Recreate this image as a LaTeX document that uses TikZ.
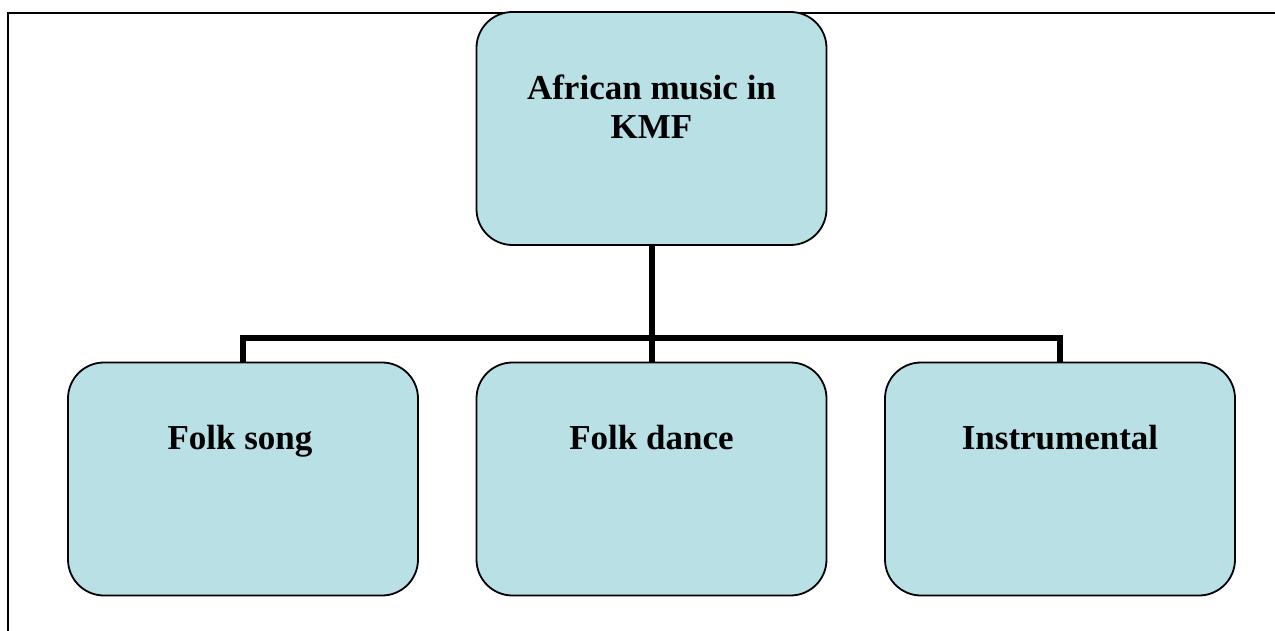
\documentclass[tikz,border=0pt]{standalone}
\usepackage{fontspec}
\setmainfont{Liberation Serif}
\definecolor{boxfill}{RGB}{185,224,228}
\begin{document}
\begin{tikzpicture}[x=1pt,y=-1pt,
  box/.style={draw=black,fill=boxfill,line width=1.8pt,rounded corners=36pt,
    rectangle,inner sep=0pt,minimum width=350pt,minimum height=233pt},
  lbl/.style={font=\fontsize{35}{40}\selectfont\bfseries,anchor=base,inner sep=0pt,align=center},
  conn/.style={line width=6pt,line join=miter}]
\useasboundingbox (0,0) rectangle (1275,631);
\fill[white] (0,0) rectangle (1275,631);
\draw[line width=2.5pt] (8,631) -- (8,13) -- (1275,13);
% boxes
\node[box] (top) at (651.5,128.5) {};
\node[box] (fs) at (243,479) {};
\node[box] (fd) at (651.5,479) {};
\node[box] (ins) at (1060,479) {};
% labels
\node[lbl] (toptxt) at (651.5,100) {African music in};
\node[lbl] (toptxt2) at (651.5,139) {KMF};
\node[lbl] (fstxt) at (240,449) {Folk song};
\node[lbl] (fdtxt) at (651.5,449) {Folk dance};
\node[lbl] (instxt) at (1060,449) {Instrumental};
% connectors
\coordinate (bus) at (651.5,337.5);
\draw[conn] (top.south) -- (fd.north);
\draw[conn] (fs.north) |- (bus) -| (ins.north);
\end{tikzpicture}
\end{document}
